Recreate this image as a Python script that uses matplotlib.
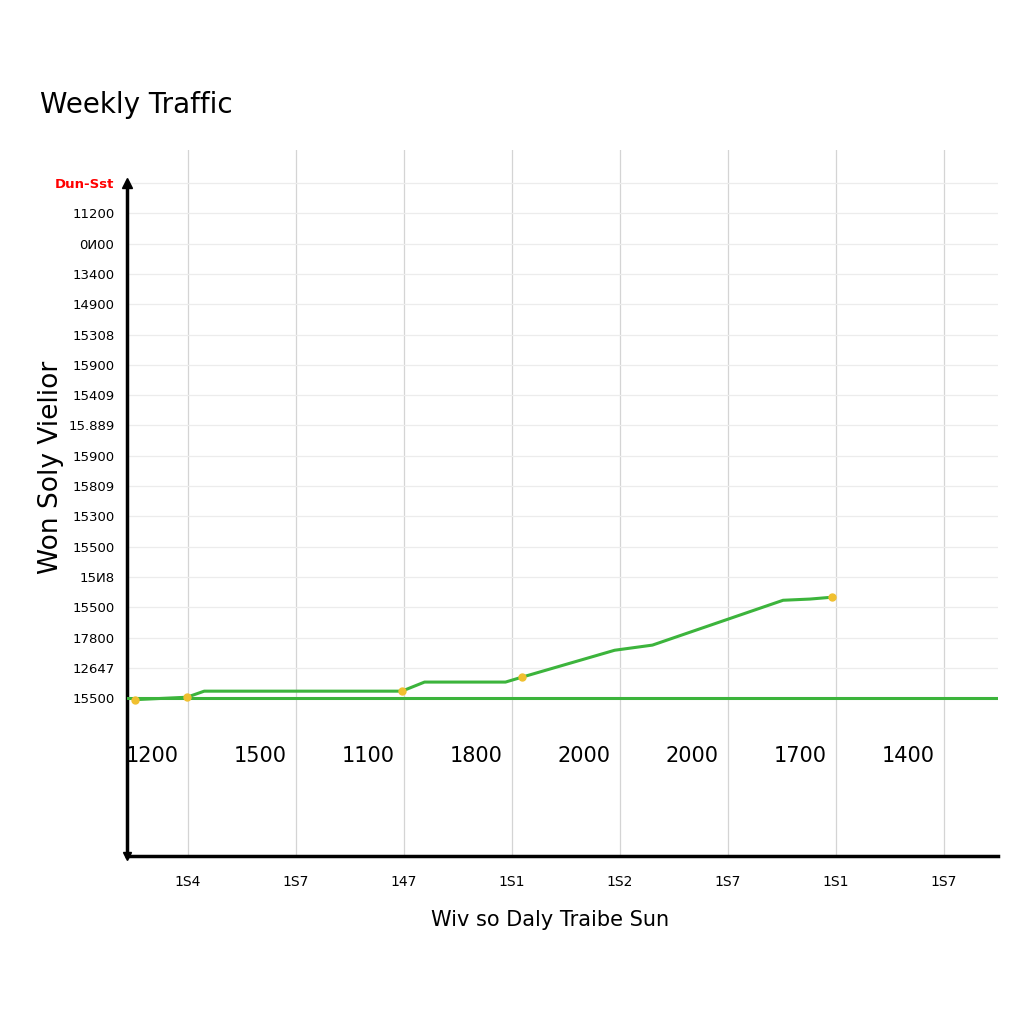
import matplotlib.pyplot as plt

# tick labels (as printed on the chart)
day_ticks = ["1S4", "1S7", "147", "1S1", "1S2", "1S7", "1S1", "1S7"]
visit_ticks = ["15500", "12647", "17800", "15500", "15И8", "15500", "15300", "15809",
               "15900", "15.889", "15409", "15900", "15308", "14900", "13400", "0И00",
               "11200", "Dun-Sst"]

# daily values written inside the plot
daily_values = ["1200", "1500", "1100", "1800", "2000", "2000", "1700", "1400"]

# baseline series
base_x = [0.44, 8.5]
base_y = [0.0, 0.0]

# traffic series
traffic_x = [0.51, 0.99, 1.15, 2.98, 3.19, 3.94, 4.09, 4.95, 5.30, 6.51, 6.76, 6.96]
traffic_y = [-0.05, 0.03, 0.23, 0.23, 0.53, 0.53, 0.69, 1.58, 1.75, 3.23, 3.27, 3.33]
marker_x = [0.51, 0.99, 2.98, 4.09, 6.96]
marker_y = [-0.05, 0.03, 0.23, 0.69, 3.33]

fig = plt.figure(figsize=(10.24, 10.24), dpi=100)
ax = fig.add_axes([127 / 1024, 1 - 856 / 1024, 871 / 1024, 706 / 1024])

x0, x1 = 0.435, 8.5
y0, y1 = -5.21, 18.09
ax.set_xlim(x0, x1)
ax.set_ylim(y0, y1)

green = "#3cb43c"
ax.plot(base_x, base_y, color=green, lw=2.2, zorder=3)
ax.plot(traffic_x, traffic_y, color=green, lw=2.2, zorder=3)
ax.plot(marker_x, marker_y, "o", color="#f0c030", ms=5, zorder=4)

for i, v in enumerate(daily_values):
    ax.text(i + 0.67, -1.9, v, fontsize=15, ha="center", va="center")

# grid
ax.set_xticks(range(1, 9))
ax.set_xticklabels(day_ticks, fontsize=10)
ax.set_yticks(range(18))
ax.set_yticklabels(visit_ticks, fontsize=9.5)
ax.get_yticklabels()[-1].set_color("red")
ax.get_yticklabels()[-1].set_fontweight("bold")
ax.tick_params(length=0, pad=9)
ax.tick_params(axis="x", pad=14)
for x in range(1, 9):
    ax.axvline(x, color="#d4d4d4", lw=0.9, zorder=1)
for y in range(18):
    ax.axhline(y, color="#ececec", lw=0.9, zorder=1)

ax.spines["top"].set_visible(False)
ax.spines["right"].set_visible(False)
ax.spines["left"].set_bounds(y0, 17)
ax.spines["left"].set_linewidth(2.5)
ax.spines["bottom"].set_linewidth(2.5)
ax.plot([x0], [17], "^", color="black", ms=7, clip_on=False, zorder=5)
ax.plot([x0], [y0], "v", color="black", ms=6, clip_on=False, zorder=5)

ax.set_ylabel("Won Soly Vielior", fontsize=19)
ax.yaxis.set_label_coords(-0.072, 0.55)
ax.set_xlabel("Wiv so Daly Traibe Sun", fontsize=15)
ax.xaxis.set_label_coords(0.486, -0.076)
fig.text(40 / 1024, 1 - 105 / 1024, "Weekly Traffic", fontsize=20, va="center")

fig.savefig("out.png", dpi=100, facecolor="white")
